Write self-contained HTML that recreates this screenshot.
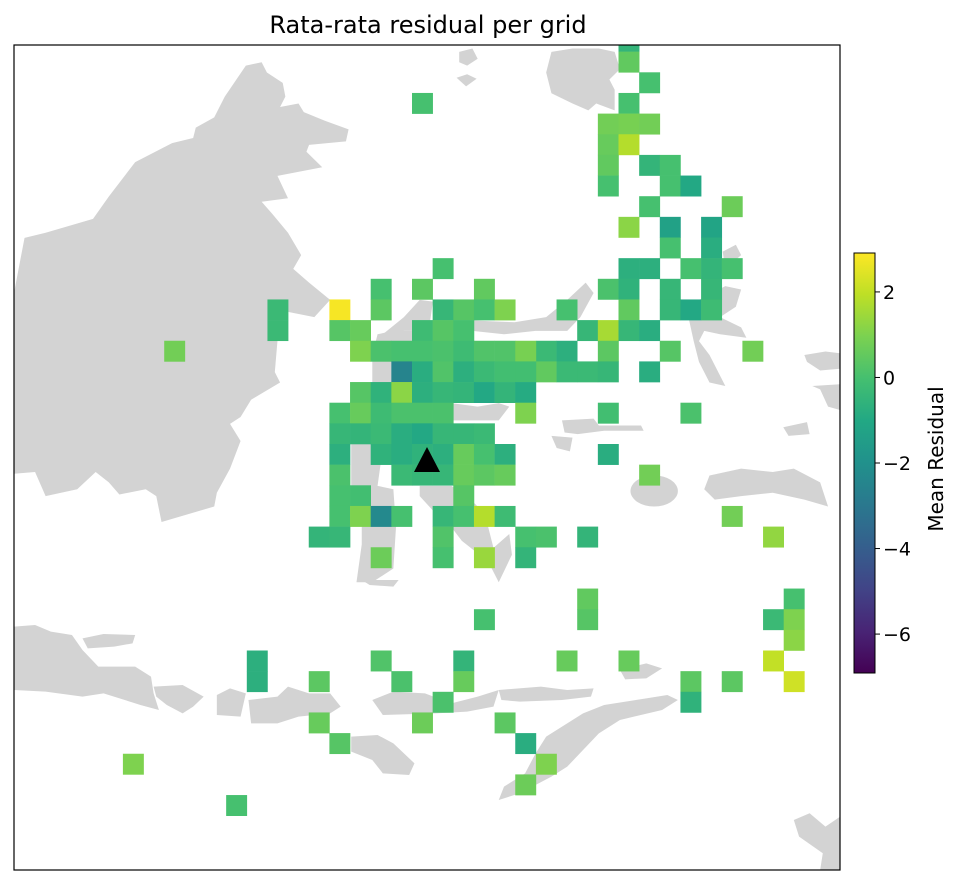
<!DOCTYPE html>
<html><head><meta charset="utf-8"><style>
html,body{margin:0;padding:0;background:#fff;}
svg{display:block;font-family:"DejaVu Sans","Liberation Sans",sans-serif;}
</style></head><body>
<svg id="chart" width="963" height="886" viewBox="0 0 963 886">
<defs>
<clipPath id="plotclip"><rect x="14" y="45" width="826" height="825"/></clipPath>
<linearGradient id="viridis" x1="0" y1="1" x2="0" y2="0">
<stop offset="0" stop-color="#440154"/><stop offset="0.1" stop-color="#482475"/><stop offset="0.2" stop-color="#414487"/><stop offset="0.3" stop-color="#355f8d"/><stop offset="0.4" stop-color="#2a788e"/><stop offset="0.5" stop-color="#21918c"/><stop offset="0.6" stop-color="#22a884"/><stop offset="0.7" stop-color="#44bf70"/><stop offset="0.8" stop-color="#7ad151"/><stop offset="0.9" stop-color="#bddf26"/><stop offset="1" stop-color="#fde725"/>
</linearGradient>
</defs>
<text x="428" y="33" text-anchor="middle" font-size="24" fill="#000">Rata-rata residual per grid</text>
<g clip-path="url(#plotclip)">
<g fill="#d3d3d3" transform="translate(14,45) scale(0.5269,0.3444)">
<polygon points="0,720 10,640 20,560 60,545 150,505 180,440 230,340 300,285 340,270 345,240 380,210 400,150 440,60 470,50 480,80 510,110 515,150 505,180 540,170 550,195 590,220 635,245 630,280 560,290 555,310 585,355 500,380 520,445 470,455 490,490 520,545 545,610 530,650 560,690 600,740 570,790 520,775 510,800 500,860 495,950 505,980 450,1030 430,1080 410,1100 430,1150 410,1230 385,1300 380,1340 280,1385 270,1310 250,1290 200,1305 180,1270 155,1240 120,1290 60,1310 40,1240 0,1245"/>
<polygon points="700,840 740,790 770,740 795,745 790,800 870,800 950,805 1010,790 1050,740 1085,690 1100,720 1075,790 1050,830 990,830 930,840 870,830 800,830 740,830 710,860"/>
<polygon points="690,840 720,830 830,830 830,1090 800,1160 700,1170 690,1280 720,1290 725,1400 720,1520 680,1560 650,1560 660,1450 660,1340 640,1280 640,1160 680,1000 680,900"/>
<polygon points="830,1040 880,1050 920,1040 940,1050 920,1090 830,1090"/>
<polygon points="770,1280 830,1280 860,1310 880,1340 900,1400 910,1460 940,1420 945,1480 920,1560 900,1500 850,1440 830,1400 800,1360 770,1310"/>
<polygon points="1020,20 1060,10 1110,10 1140,20 1150,70 1130,100 1140,130 1140,190 1105,170 1090,190 1060,170 1020,140 1010,80"/>
<polygon points="845,20 870,10 880,40 860,60 845,50"/>
<polygon points="840,95 860,85 878,98 858,120"/>
<polygon points="1350,700 1380,710 1370,760 1340,790 1380,820 1390,850 1340,840 1310,830 1300,860 1320,900 1350,990 1320,980 1300,920 1290,860 1280,790 1300,740"/>
<polygon points="1345,600 1370,580 1380,610 1350,650"/>
<polygon points="1320,1250 1380,1230 1440,1240 1480,1230 1530,1270 1545,1340 1500,1320 1440,1300 1380,1310 1330,1320 1310,1290"/>
<ellipse cx="1215" cy="1295" rx="45" ry="45"/>
<polygon points="1040,1090 1100,1085 1110,1105 1190,1105 1195,1120 1120,1120 1070,1130 1045,1125"/>
<polygon points="1460,1110 1505,1095 1510,1130 1470,1135"/>
<polygon points="1500,900 1540,890 1568,895 1568,940 1530,945 1505,920"/>
<polygon points="1515,990 1568,985 1568,1060 1545,1050 1530,1000"/>
<polygon points="1020,1135 1060,1140 1055,1180 1030,1170"/>
</g>
<g fill="#d3d3d3" transform="translate(14,580) scale(0.5269,0.3333)">
<polygon points="0,140 40,135 70,155 110,165 130,210 160,260 230,260 260,290 265,340 275,390 240,375 170,340 130,350 60,335 0,330"/>
<polygon points="130,175 170,162 230,165 225,190 190,200 140,205"/>
<polygon points="265,320 320,315 360,350 340,380 320,400 290,375 270,350"/>
<polygon points="385,345 410,325 440,340 430,410 385,405"/>
<polygon points="445,360 500,350 520,320 560,340 600,340 620,380 600,400 540,410 500,430 450,430"/>
<polygon points="680,360 720,335 780,340 830,370 880,350 920,330 910,380 860,395 800,400 700,405"/>
<polygon points="640,470 690,465 720,490 760,550 750,585 700,580 680,540 640,515"/>
<polygon points="1240,345 1260,360 1230,390 1150,420 1110,460 1080,510 1050,560 1020,590 960,640 920,660 930,620 970,580 990,520 1010,470 1080,400 1120,375 1200,355"/>
<polygon points="1150,270 1200,250 1230,265 1200,295 1160,298"/>
<polygon points="920,330 1000,320 1050,330 1100,325 1095,350 1040,360 960,365 925,360"/>
<polygon points="1480,720 1510,700 1540,740 1568,710 1568,870 1530,870 1535,820 1490,770"/>
<polygon points="660,0 730,0 720,20 675,15"/>
</g>
<g id="cells"></g>
<polygon points="427,447 440,472 414,472" fill="#000"/>
</g>
<rect x="14" y="45" width="826" height="825" fill="none" stroke="#000" stroke-width="1.2"/>
<g id="colorbar">
<rect x="854" y="253" width="21" height="420" fill="url(#viridis)" stroke="#000" stroke-width="1"/>
</g>
<text transform="translate(943,459) rotate(-90)" text-anchor="middle" font-size="20" fill="#000">Mean Residual</text>
</svg>
<script>
const cellCols = [30,30,31,30,29,30,31,29,30,29,31,32,29,32,33,31,35,30,32,34,32,34,30,31,33,34,35,29,30,32,34,27,30,32,33,34,28,29,30,31,26,27,29,32,36,26,27,28,29,31,29,33,
21,18,20,23,13,16,18,21,22,23,24,13,16,17,20,21,22,17,18,19,20,21,22,23,24,25,19,20,21,22,23,24,25,17,18,19,20,21,22,23,24,25,16,17,18,19,20,21,25,16,17,18,19,20,21,22,23,16,18,19,20,21,22,23,24,16,19,20,21,22,23,24,16,17,22,16,17,18,19,21,22,23,24,15,16,21,25,26,18,21,23,25,
20,8,31,35,37,28,29,28,28,23,38,37,38,38,37,38,12,12,15,18,19,22,22,27,30,33,33,35,21,15,20,24,16,25,26,6,25,11];
const cellRows = [0,1,2,3,4,4,4,5,5,6,6,6,7,7,7,8,8,9,9,9,10,10,11,11,11,11,11,12,12,12,12,13,13,13,13,13,14,14,14,14,15,15,15,15,15,16,16,16,16,16,18,18,
11,12,12,12,13,13,13,13,13,13,13,14,14,14,14,14,14,15,15,15,15,15,15,15,15,15,16,16,16,16,16,16,16,17,17,17,17,17,17,17,17,17,18,18,18,18,18,18,18,19,19,19,19,19,19,19,19,20,20,20,20,20,20,20,20,21,21,21,21,21,21,21,22,22,22,23,23,23,23,23,23,23,23,24,24,24,24,24,25,25,25,25,
3,15,21,23,24,24,20,27,28,28,27,28,28,29,30,31,30,31,31,30,31,30,31,30,30,31,32,31,32,33,33,33,34,34,35,35,36,37];
const cellValues = [-0.5,0.5,0,0,0.8,0.9,0.8,0.6,1.8,0.5,-0.5,0,0,0,-1.0,0,0.7,1.2,-1.3,-1.2,0,-0.8,-0.7,-0.7,0,-0.5,0,0.1,-0.6,-0.4,-0.4,0,0.5,-0.4,-1.0,-0.2,-0.4,1.6,-0.4,-0.8,-0.3,-0.7,0.4,0.3,0.8,0.5,-0.3,-0.3,-0.4,-0.8,-0.1,0.1,
0,0,0.4,0.5,-0.3,2.8,0.4,-0.4,0.3,0,1.0,-0.3,0.3,0.6,-0.2,0.3,0,1.0,0.1,0,0,0.1,-0.2,0.2,0.2,0.9,-2.5,-0.8,0.2,-0.7,-0.3,-0.1,-0.1,0.3,-0.6,1.2,-0.7,-0.4,-0.5,-1.0,-0.5,-0.9,0,0.6,-0.2,0.1,0.1,0.1,1.0,-0.4,-0.5,-0.3,-0.8,-1.0,-0.4,-0.4,-0.3,-0.7,-0.6,-0.8,-0.6,-0.7,0.6,0,-0.7,0.1,-0.3,-0.4,-0.4,0.6,0.4,0.6,0,-0.1,0.3,0,1.0,-2.3,0,-0.4,0,1.8,-0.2,-0.5,-0.4,0.2,0,0.1,0.7,0,1.4,-0.5,
0,0.8,0.8,0.8,1.3,-0.5,-0.8,0.5,0.3,0,0,-0.3,1.0,1.2,2.0,2.2,-0.7,-0.7,0.4,0.2,0.1,-0.5,0.6,0.6,0.6,0.4,-0.6,0.4,0.1,0.6,0.7,0.4,0.3,-0.8,1.0,1.0,0.7,0];
const cbTicks = [2,0,-2,-4,-6];
const cbTickLabels = ["2","0","\u22122","\u22124","\u22126"];
const VMIN = -6.91, VMAX = 2.91;
const X0 = -1, Y0 = 31, CW = 20.65, CH = 20.65;
const stops = ["#440154","#482475","#414487","#355f8d","#2a788e","#21918c","#22a884","#44bf70","#7ad151","#bddf26","#fde725"];
function hex(c){return [parseInt(c.slice(1,3),16),parseInt(c.slice(3,5),16),parseInt(c.slice(5,7),16)];}
function viridis(v){
  let t=(v-VMIN)/(VMAX-VMIN); t=Math.max(0,Math.min(1,t))*10;
  const i=Math.min(9,Math.floor(t)), f=t-i, a=hex(stops[i]), b=hex(stops[i+1]);
  return "rgb("+a.map((x,k)=>Math.round(x+(b[k]-x)*f)).join(",")+")";
}
function xScale(c){return X0 + c*CW;}
function yScale(r){return Y0 + r*CH;}
function cbY(v){return 253 + (VMAX - v)/(VMAX-VMIN)*420;}
const NS="http://www.w3.org/2000/svg";
const g=document.getElementById("cells");
for(let i=0;i<cellValues.length;i++){
  const r=document.createElementNS(NS,"rect");
  r.setAttribute("x",xScale(cellCols[i]).toFixed(2));
  r.setAttribute("y",yScale(cellRows[i]).toFixed(2));
  r.setAttribute("width",(CW+0.3).toFixed(2));
  r.setAttribute("height",(CH+0.3).toFixed(2));
  r.setAttribute("fill",viridis(cellValues[i]));
  
  
  g.appendChild(r);
}
const cb=document.getElementById("colorbar");
for(let i=0;i<cbTicks.length;i++){
  const y=cbY(cbTicks[i]);
  const l=document.createElementNS(NS,"line");
  l.setAttribute("x1",875);l.setAttribute("x2",880);l.setAttribute("y1",y);l.setAttribute("y2",y);
  l.setAttribute("stroke","#000");
  
  
  cb.appendChild(l);
  const t=document.createElementNS(NS,"text");
  t.setAttribute("x",883);t.setAttribute("y",y+7);t.setAttribute("font-size","19");
  t.textContent=cbTickLabels[i];
  
  
  cb.appendChild(t);
}
</script>
</body></html>
